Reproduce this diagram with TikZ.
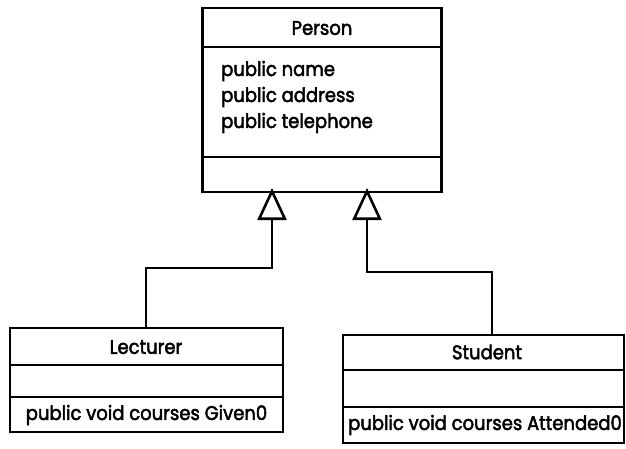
\documentclass[tikz,border=0pt]{standalone}
\usepackage{fontspec}
\setmainfont{Poppins}[FakeBold=2.5]
\usetikzlibrary{arrows.meta}
\newcommand{\tallt}[1]{\scalebox{1}[1.1]{#1}}
\tikzset{
  box/.style={draw, line width=2.6pt, inner sep=0pt, outer sep=0pt},
  sep/.style={line width=2.6pt},
  label/.style={inner sep=0pt, font=\fontsize{18}{20}\selectfont},
  attr/.style={label, anchor=west},
  conn/.style={line width=2.6pt, -{Triangle[open, length=32pt, width=29pt, line width=2.6pt]}}
}
\begin{document}
\begin{tikzpicture}[x=1pt,y=-1pt]
\useasboundingbox (0,0) rectangle (626,448);
% Person
\node[box, minimum width=239pt, minimum height=184pt] (person) at (322,100) {};
\draw[sep] (person.west |- 0,47) -- (person.east |- 0,47);
\draw[sep] (person.west |- 0,157) -- (person.east |- 0,157);
\node[label] (ptitle) at (322,28) {\tallt{Person}};
\node[attr] (a1) at (221,71) {\tallt{public name}};
\node[attr] (a2) at (221,97) {\tallt{public address}};
\node[attr] (a3) at (221,123) {\tallt{public telephone}};
% Lecturer
\node[box, minimum width=273pt, minimum height=104pt] (lect) at (146.5,380) {};
\draw[sep] (lect.west |- 0,365) -- (lect.east |- 0,365);
\draw[sep] (lect.west |- 0,397) -- (lect.east |- 0,397);
\node[label] (ltitle) at (146,347) {\tallt{Lecturer}};
\node[label] (lmeth) at (146.5,415) {\tallt{public void courses Given0}};
% Student
\node[box, minimum width=281pt, minimum height=108pt] (stud) at (483.5,389) {};
\draw[sep] (stud.west |- 0,370) -- (stud.east |- 0,370);
\draw[sep] (stud.west |- 0,407) -- (stud.east |- 0,407);
\node[label] (stitle) at (487,352) {\tallt{Student}};
\node[label] (smeth) at (485,425) {\tallt{public void courses Attended0}};
% connectors
\coordinate (lapex) at (272,188);
\coordinate (sapex) at (367,188);
\draw[conn] (lect.north -| 146,0) |- (272,268) -- (lapex);
\draw[conn] (stud.north -| 492,0) |- (367,272) -- (sapex);
\end{tikzpicture}
\end{document}
